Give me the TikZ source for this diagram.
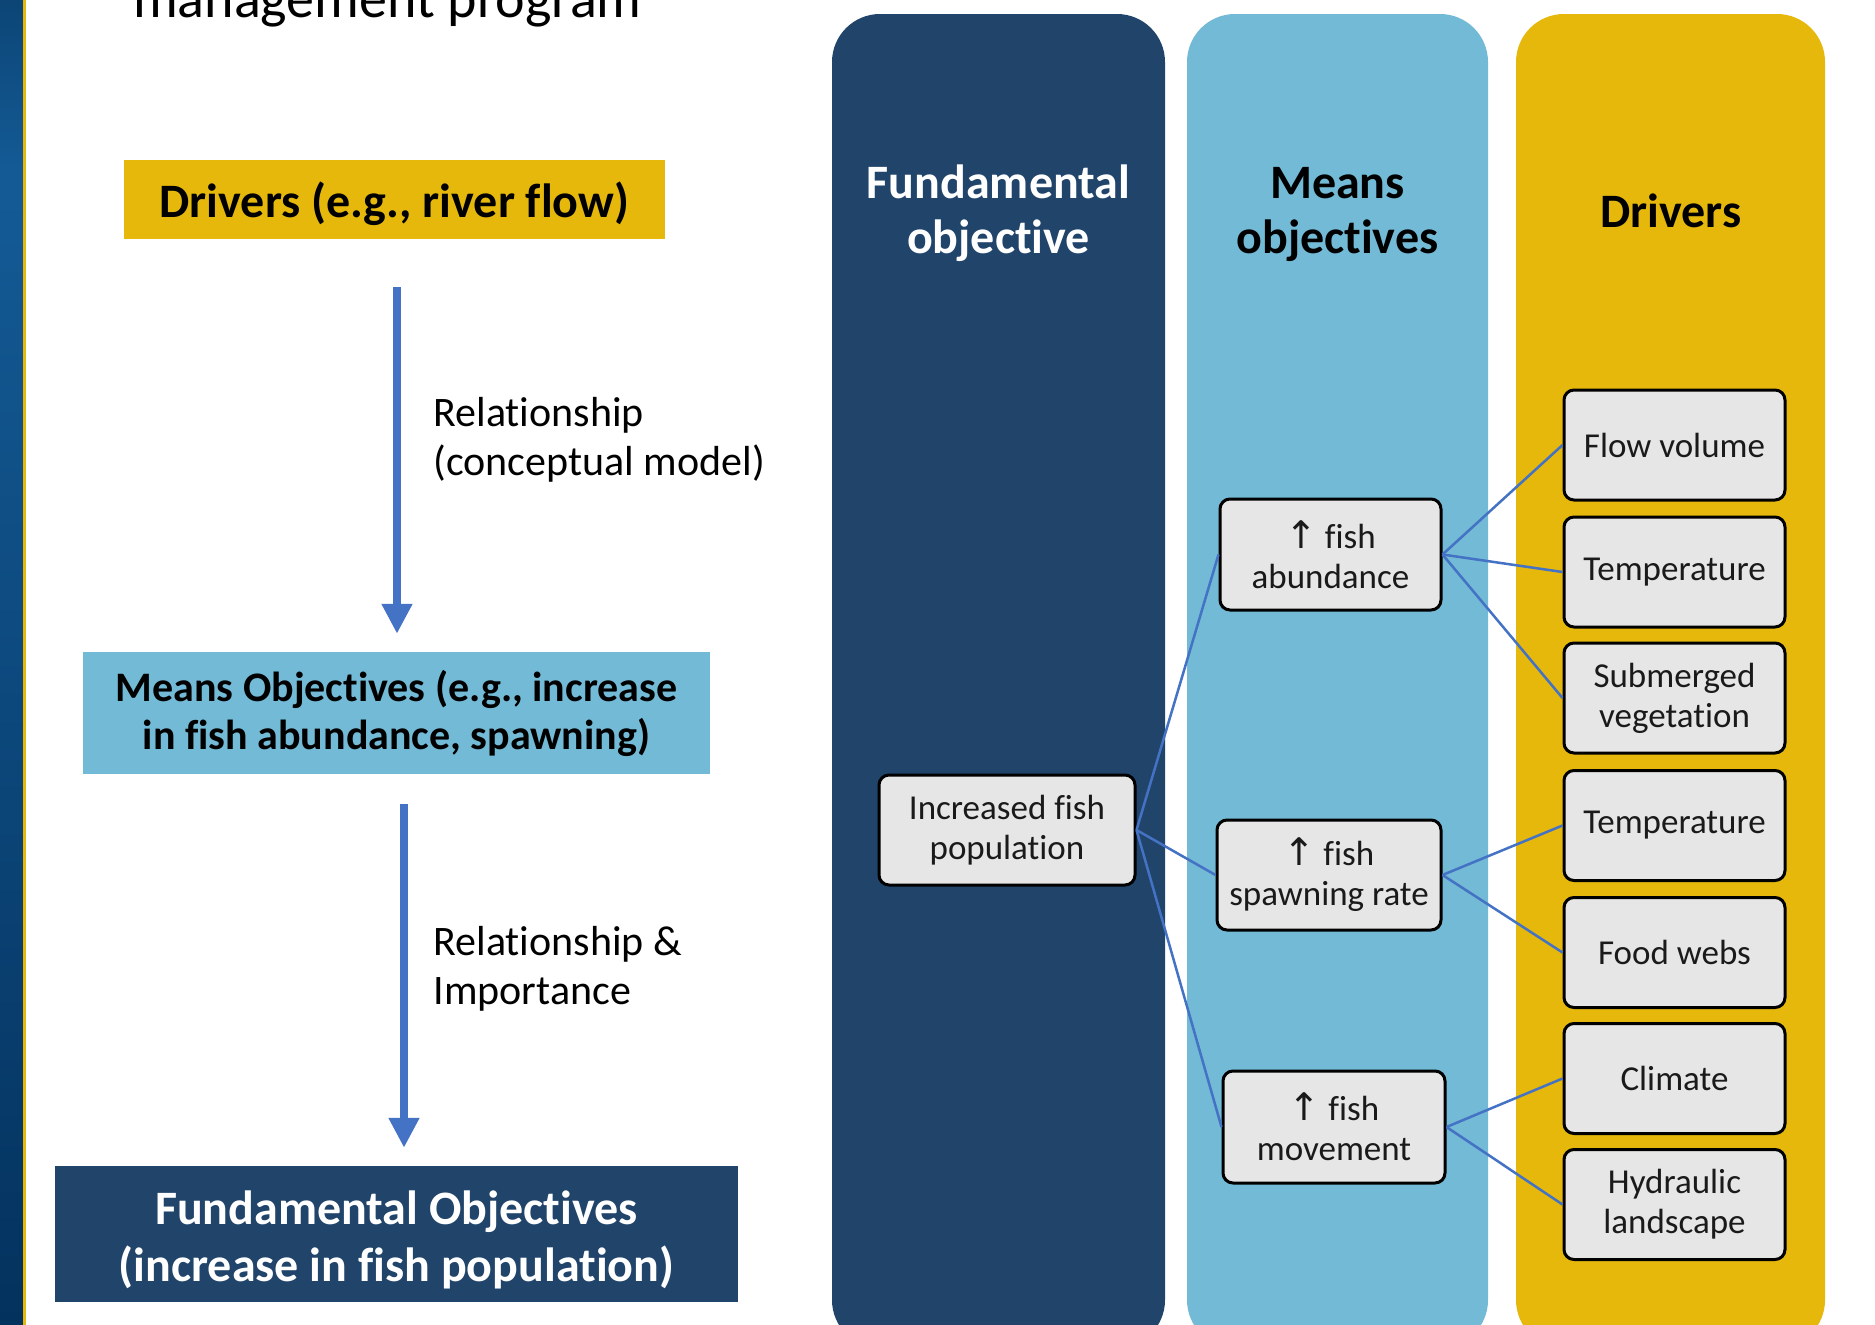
\documentclass[tikz,border=0pt]{standalone}
\usepackage{fontspec}
\setmainfont{Carlito}[Ligatures=NoCommon]
\newfontfamily\arrowfont{DejaVu Sans}
\usetikzlibrary{arrows.meta}
\definecolor{navy}{HTML}{21446B}
\definecolor{skyb}{HTML}{72BAD5}
\definecolor{gold}{HTML}{E5B80B}
\definecolor{nodegray}{HTML}{E6E6E6}
\definecolor{linkblue}{HTML}{4472C4}
\definecolor{stripeA}{HTML}{0C4576}
\definecolor{stripeB}{HTML}{145B96}
\definecolor{stripeC}{HTML}{04325E}
\definecolor{txt}{HTML}{1A1A1A}
\tikzset{
  column/.style={rounded corners=48pt},
  leftbox/.style={inner sep=0pt},
  boxtext/.style={inner sep=0pt, align=center, font=\bfseries\fontsize{48}{57}\selectfont},
  bigarrow/.style={draw=linkblue, line width=8pt, -{Triangle[width=29pt,length=30pt]}},
  label/.style={anchor=west, align=left, text=black, font=\fontsize{42}{49}\selectfont},
  header/.style={align=center, font=\bfseries\fontsize{48}{55}\selectfont},
  gnode/.style={draw=black, line width=3pt, fill=nodegray, rounded corners=10pt, align=center,
    inner sep=0pt, text=txt, font=\fontsize{35}{40}\selectfont},
  drvnode/.style={gnode, minimum width=221pt, minimum height=110pt},
  link/.style={draw=linkblue, line width=2.5pt}
}
\newcommand{\upar}{{\arrowfont\fontsize{38}{40}\selectfont ↑}}
\begin{document}
\begin{tikzpicture}[x=1pt,y=-1pt]
\path[use as bounding box, clip] (0,0) rectangle (1875,1325);
\fill[white] (0,0) rectangle (1875,1325);
% left stripe
\shade[top color=stripeA, bottom color=stripeB] (0,0) rectangle (23,175);
\shade[top color=stripeB, bottom color=stripeC] (0,174) rectangle (23,1325);
\fill[gold] (23,0) rectangle (25.5,1325);
% title (cut off at the top edge, as in the reference)
\node[anchor=base west, inner sep=0pt, font=\fontsize{56}{60}\selectfont] (title) at (133,17) {management program};
% columns
\fill[navy, column] (832,14) rectangle (1165,1348);
\fill[skyb, column] (1187,14) rectangle (1488,1348);
\fill[gold, column] (1516,14) rectangle (1825,1348);
\node[header, text=white] (hfund) at (998.5,213) {Fundamental\\objective};
\node[header, text=black] (hmeans) at (1337.5,214) {Means\\objectives};
\node[header, text=black] (hdrv) at (1671,211) {Drivers};
% left side boxes
\node[leftbox, fill=gold, minimum width=541pt, minimum height=79pt] (drv) at (394.5,199.5) {};
\node[boxtext, text=black] (drvtxt) at ([yshift=-4pt]drv.center) {Drivers (e.g., river flow)};
\node[leftbox, fill=skyb, minimum width=627pt, minimum height=122pt] (means) at (396.5,713) {};
\node[boxtext, text=black, font=\bfseries\fontsize{42}{48}\selectfont] (meanstxt) at (means.center) {Means Objectives (e.g., increase\\in fish abundance, spawning)};
\node[leftbox, fill=navy, minimum width=683pt, minimum height=136pt] (fund) at (396.5,1234) {};
\node[boxtext, text=white] (fundtxt) at ([yshift=-6pt]fund.center) {Fundamental Objectives\\(increase in fish population)};
\draw[bigarrow, shorten <=48pt, shorten >=18pt] ([xshift=2.5pt]drv.south) -- ([xshift=2.5pt]drv.south |- means.north);
\draw[bigarrow, shorten <=30pt, shorten >=18pt] ([xshift=7.5pt]means.south) -- ([xshift=7.5pt]means.south |- fund.north);
\node[label] (rel1) at (430,440) {Relationship\\(conceptual model)};
\node[label] (rel2) at (430,969) {Relationship \&\\Importance};
% right nodes
\node[gnode, minimum width=256pt, minimum height=110pt] (inc) at (1007,830) {Increased fish\\population};
\node[gnode, minimum width=221pt, minimum height=111pt] (abu) at (1330.5,554.5) {\upar\ fish\\abundance};
\node[gnode, minimum width=224pt, minimum height=110pt] (spa) at (1329,875) {\upar\ fish\\spawning rate};
\node[gnode, minimum width=222pt, minimum height=112pt] (mov) at (1334,1127) {\upar\ fish\\movement};
\node[drvnode] (flow) at (1674.5,445) {Flow volume};
\node[drvnode] (tempa) at (1674.5,572) {Temperature};
\node[drvnode] (subm) at (1674.5,698) {Submerged\\vegetation};
\node[drvnode] (tempb) at (1674.5,825.5) {Temperature};
\node[drvnode] (food) at (1674.5,952.5) {Food webs};
\node[drvnode] (clim) at (1674.5,1078.5) {Climate};
\node[drvnode] (hyd) at (1674.5,1204.5) {Hydraulic\\landscape};
% links
\draw[link] (inc.east) -- (abu.west);
\draw[link] (inc.east) -- (spa.west);
\draw[link] (inc.east) -- (mov.west);
\draw[link] (abu.east) -- (flow.west);
\draw[link] (abu.east) -- (tempa.west);
\draw[link] (abu.east) -- (subm.west);
\draw[link] (spa.east) -- (tempb.west);
\draw[link] (spa.east) -- (food.west);
\draw[link] (mov.east) -- (clim.west);
\draw[link] (mov.east) -- (hyd.west);
\end{tikzpicture}
\end{document}
